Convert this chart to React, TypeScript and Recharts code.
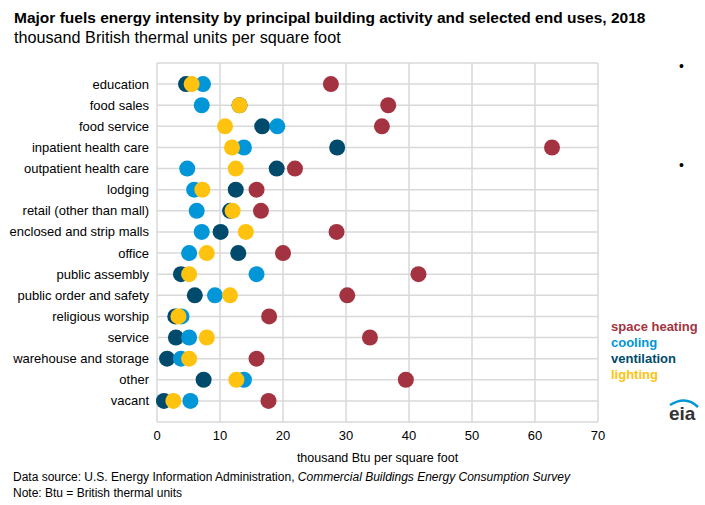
import React from "react";
import {
  ScatterChart,
  Scatter,
  XAxis,
  YAxis,
  CartesianGrid,
} from "recharts";

const categories = [
  "education",
  "food sales",
  "food service",
  "inpatient health care",
  "outpatient health care",
  "lodging",
  "retail (other than mall)",
  "enclosed and strip malls",
  "office",
  "public assembly",
  "public order and safety",
  "religious worship",
  "service",
  "warehouse and storage",
  "other",
  "vacant",
];

const spaceHeating = [27.6, 36.7, 35.7, 62.7, 21.9, 15.8, 16.5, 28.5, 20.0, 41.5, 30.2, 17.8, 33.8, 15.8, 39.5, 17.7];
const ventilation = [4.6, 13.1, 16.7, 28.6, 19.0, 12.5, 11.6, 10.1, 12.9, 3.8, 6.0, 2.9, 3.0, 1.6, 7.4, 1.1];
const cooling = [7.3, 7.1, 19.1, 13.8, 4.8, 5.9, 6.3, 7.1, 5.1, 15.8, 9.2, 3.9, 5.1, 3.8, 13.8, 5.3];
const lighting = [5.5, 13.1, 10.8, 11.9, 12.5, 7.2, 12.0, 14.1, 7.9, 5.1, 11.6, 3.4, 7.9, 5.1, 12.6, 2.6];

const xTicks = [0, 10, 20, 30, 40, 50, 60, 70];
const yTicks = Array.from({ length: categories.length + 2 }, (_, i) => i);

const series = [
  { name: "space heating", values: spaceHeating, color: "#a33340" },
  { name: "ventilation", values: ventilation, color: "#004b6b" },
  { name: "cooling", values: cooling, color: "#0096d7" },
  { name: "lighting", values: lighting, color: "#ffc20e" },
];

const legendOrder = ["space heating", "cooling", "ventilation", "lighting"];

const FONT = "'Liberation Sans', Arial, sans-serif";

const toPoints = (values: number[]) =>
  values.map((v, i) => ({ x: v, y: i + 1, name: categories[i] }));

const dot = (color: string) => (props: any) =>
  <circle cx={props.cx} cy={props.cy} r={8} fill={color} />;

// plain text tick so long names don't wrap
const CategoryTick = (props: any) => {
  const { x, y, payload } = props;
  const label = categories[payload.value - 1];
  if (!label) return null;
  return (
    <text x={x} y={y} dy="0.35em" textAnchor="end" fill="#000" fontSize={13} fontFamily={FONT}>
      {label}
    </text>
  );
};

export default function App() {
  return (
    <div
      style={{
        position: "absolute",
        left: 0,
        top: 0,
        width: 705,
        height: 505,
        background: "#fff",
        fontFamily: FONT,
        overflow: "hidden",
      }}
    >
      <div style={{ position: "absolute", left: 14, top: 9, fontSize: 15.5, fontWeight: "bold", color: "#000", whiteSpace: "nowrap" }}>
        Major fuels energy intensity by principal building activity and selected end uses, 2018
      </div>
      <div style={{ position: "absolute", left: 14, top: 28, fontSize: 16.2, color: "#000", whiteSpace: "nowrap" }}>
        thousand British thermal units per square foot
      </div>

      <ScatterChart
        width={705}
        height={505}
        margin={{ top: 63, right: 107, bottom: 53, left: 7 }}
      >
        <CartesianGrid stroke="#d9d9d9" strokeWidth={1.5} />
        <XAxis
          type="number"
          dataKey="x"
          domain={[0, 70]}
          ticks={xTicks}
          axisLine={false}
          tickLine={false}
          tickSize={0}
          tickMargin={9}
          height={30}
          tick={{ fill: "#000", fontSize: 13, fontFamily: FONT }}
          label={{
            value: "thousand Btu per square foot",
            position: "insideBottom",
            offset: -10,
            fill: "#000",
            fontSize: 12.5,
            fontFamily: FONT,
          }}
        />
        <YAxis
          type="number"
          dataKey="y"
          domain={[0, categories.length + 1]}
          ticks={yTicks}
          reversed
          interval={0}
          width={150}
          axisLine={false}
          tickLine={false}
          tickSize={0}
          tickMargin={8}
          tick={<CategoryTick />}
        />
        {series.map((s) => (
          <Scatter
            key={s.name}
            name={s.name}
            data={toPoints(s.values)}
            fill={s.color}
            shape={dot(s.color)}
            isAnimationActive={false}
          />
        ))}
      </ScatterChart>

      <div style={{ position: "absolute", left: 679, top: 58, fontSize: 14, color: "#000" }}>•</div>
      <div style={{ position: "absolute", left: 679, top: 157, fontSize: 14, color: "#000" }}>•</div>

      <div style={{ position: "absolute", left: 611, top: 319, fontSize: 13, fontWeight: "bold", lineHeight: "16px" }}>
        {legendOrder.map((n) => {
          const s = series.find((x) => x.name === n)!;
          return (
            <div key={n} style={{ color: s.color }}>
              {n}
            </div>
          );
        })}
      </div>

      <svg style={{ position: "absolute", left: 662, top: 396 }} width={40} height={30}>
        <path d="M 8 9 Q 24 -1 36 11" stroke="#0096d7" strokeWidth={2.5} fill="none" />
        <text x={7} y={24} fontSize={19} fontWeight="bold" fill="#333" fontFamily={FONT}>
          eia
        </text>
      </svg>

      <div style={{ position: "absolute", left: 13, top: 470, fontSize: 12, color: "#000", whiteSpace: "nowrap" }}>
        Data source: U.S. Energy Information Administration, <i>Commercial Buildings Energy Consumption Survey</i>
      </div>
      <div style={{ position: "absolute", left: 13, top: 486, fontSize: 12, color: "#000", whiteSpace: "nowrap" }}>
        Note: Btu = British thermal units
      </div>
    </div>
  );
}
